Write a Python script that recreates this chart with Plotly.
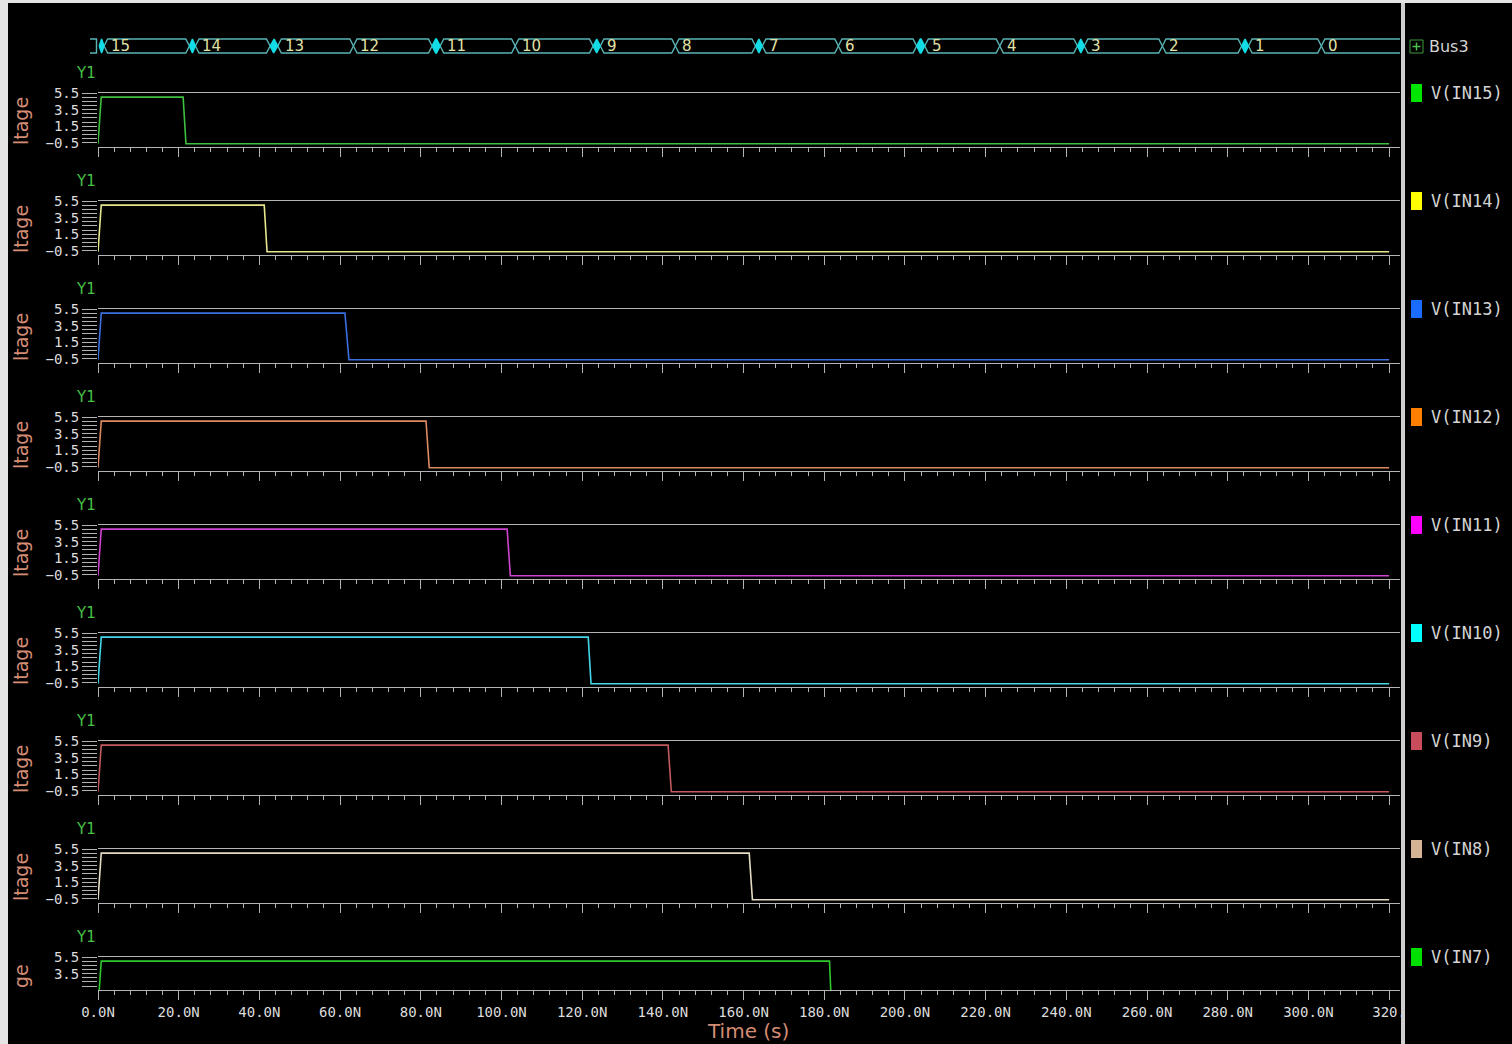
import plotly.graph_objects as go

W, H = 1512, 1044

# ---------------- waveform data (time in ns, voltage in V) ----------------
SIGNAL_NAMES = ["V(IN15)", "V(IN14)", "V(IN13)", "V(IN12)", "V(IN11)",
                "V(IN10)", "V(IN9)", "V(IN8)", "V(IN7)"]
RISE_END = [0.8, 0.8, 0.8, 0.8, 0.8, 0.8, 0.8, 0.8, 0.8]
FALL_START = [21.1, 41.2, 61.2, 81.3, 101.4, 121.5, 141.3, 161.4, 181.3]
FALL_END = [21.8, 41.9, 62.2, 82.1, 102.2, 122.2, 142.1, 162.2, 181.8]
V_HIGH = [5.0, 5.0, 5.0, 5.0, 5.0, 5.0, 5.0, 5.0, 5.0]
V_LOW = [-0.6, -0.6, -0.6, -0.6, -0.6, -0.6, -0.6, -0.6, -0.6]
SIM_END = 320.0

LINE_COLORS = ["#3fbf3f", "#e6e68c", "#3c6fe0", "#dc8a62", "#d043d0",
               "#44d6e6", "#c25a5e", "#e6dcc2", "#2ec82e"]
SWATCH_COLORS = ["#00e600", "#ffff00", "#1a6cff", "#ff8000", "#ff00ff",
                 "#00ffff", "#c84c5c", "#d4b494", "#00e000"]

# Bus3 decoded value, transition centres (ns) and glitch widths (ns)
BUS_VALUES = [15, 14, 13, 12, 11, 10, 9, 8, 7, 6, 5, 4, 3, 2, 1, 0]
BUS_EDGE = [0.9, 23.4, 43.6, 63.3, 83.8, 103.4, 123.6, 143.1, 163.8, 183.5,
            203.9, 223.5, 243.6, 263.8, 284.3, 303.2]
BUS_GLITCH = [1.2, 1.5, 1.9, 0.0, 2.0, 0.0, 1.8, 0.0, 1.7, 0.0, 2.0, 0.0,
              1.7, 0.0, 1.7, 0.0]

# Axis ticks
Y_TICKS = [5.5, 3.5, 1.5, -0.5]
X_TICKS = [0, 20, 40, 60, 80, 100, 120, 140, 160, 180, 200, 220, 240, 260,
           280, 300, 320]
X_TICK_TEXT = ["0.0N", "20.0N", "40.0N", "60.0N", "80.0N", "100.0N", "120.0N",
               "140.0N", "160.0N", "180.0N", "200.0N", "220.0N", "240.0N",
               "260.0N", "280.0N", "300.0N", "320."]

# ---------------- layout geometry (pixels) ----------------
PLOT_L, PLOT_R = 98, 1400
X_MAX = 322.7
PPN = (PLOT_R - PLOT_L) / X_MAX       # pixels per ns
PX_PER_V = 8.33
PANEL_TOP = [93 + 108 * k for k in range(9)]
PANEL_BOT = [t + 54 for t in PANEL_TOP]
PANEL_BOT[-1] = 990
BUS_TOP, BUS_BOT = 38, 54
BUS_L = 88

GRID = "#b4b4b4"
TICKFONT = dict(family="DejaVu Sans Mono", size=14, color="#dcdcdc")
TITLE_COLOR = "#d48c74"


def px_x(p):
    return p / W


def px_y(p):
    return 1 - p / H


fig = go.Figure()
layout = dict(
    template="none",
    width=W, height=H, autosize=False,
    margin=dict(l=0, r=0, t=0, b=0, pad=0, autoexpand=False),
    paper_bgcolor="#e4e4e4", plot_bgcolor="#000000",
    font=dict(family="DejaVu Sans", color="#d4d4d4"),
    showlegend=False,
)

annotations = []
shapes = [
    # dark canvas behind everything
    dict(type="rect", xref="paper", yref="paper", x0=px_x(8), x1=1,
         y0=0, y1=px_y(3), fillcolor="#000000", line=dict(width=0),
         layer="below"),
    # divider between waveform area and signal list
    dict(type="rect", xref="paper", yref="paper", x0=px_x(1401), x1=px_x(1405),
         y0=0, y1=px_y(3), fillcolor="#cfcfcf", line=dict(width=0)),
]

for k, name in enumerate(SIGNAL_NAMES):
    idx = k + 1
    sx = "" if idx == 1 else str(idx)
    top, bot = PANEL_TOP[k], PANEL_BOT[k]
    y_lo = 5.5 - (bot - top) / PX_PER_V

    t = [0.0, RISE_END[k], FALL_START[k], FALL_END[k], SIM_END]
    v = [V_LOW[k], V_HIGH[k], V_HIGH[k], V_LOW[k], V_LOW[k]]
    fig.add_trace(go.Scatter(
        x=t, y=v, mode="lines", name=name,
        line=dict(color=LINE_COLORS[k], width=1.6),
        xaxis="x" + sx, yaxis="y" + sx, hoverinfo="skip"))

    last = idx == len(SIGNAL_NAMES)
    layout["xaxis" + sx] = dict(
        domain=[px_x(PLOT_L), px_x(PLOT_R)], range=[0, X_MAX],
        anchor="y" + sx, showgrid=False, zeroline=False, automargin=False,
        showline=True, linecolor=GRID, linewidth=1, mirror=True,
        ticks="outside", ticklen=9, tickwidth=1, tickcolor=GRID,
        tickmode="array", tickvals=X_TICKS, ticktext=X_TICK_TEXT,
        showticklabels=last,
        tickfont=dict(family="DejaVu Sans Mono", size=14, color="#dcdcdc"),
        minor=dict(tickmode="linear", tick0=0, dtick=4, ticks="outside",
                   ticklen=4, tickcolor=GRID, showgrid=False),
        fixedrange=True,
    )
    layout["yaxis" + sx] = dict(
        domain=[px_y(bot), px_y(top)], range=[y_lo, 5.5],
        anchor="x" + sx, showgrid=False, zeroline=False, showline=False,
        automargin=False,
        ticks="outside", ticklen=15, tickwidth=1, tickcolor=GRID,
        tickmode="array", tickvals=Y_TICKS, tickfont=TICKFONT,
        minor=dict(tickmode="linear", tick0=-0.5, dtick=0.5, ticks="outside",
                   ticklen=15, tickcolor=GRID, showgrid=False),
        fixedrange=True,
    )

    # panel captions
    annotations.append(dict(
        xref="paper", yref="paper", x=px_x(86), y=px_y(top - 20),
        text="Y1", showarrow=False, xanchor="center", yanchor="middle",
        font=dict(family="DejaVu Sans", size=15, color="#46c046")))
    annotations.append(dict(
        xref="paper", yref="paper", x=px_x(21),
        y=px_y(bot if not last else bot), textangle=-90,
        text="ltage" if not last else "ge", showarrow=False,
        xanchor="center", yanchor="bottom",
        font=dict(family="DejaVu Sans", size=19, color=TITLE_COLOR)))

    # signal list entry
    shapes.append(dict(
        type="rect", xref="paper", yref="paper",
        x0=px_x(1411), x1=px_x(1422), y0=px_y(top + 9), y1=px_y(top - 9),
        fillcolor=SWATCH_COLORS[k], line=dict(width=0)))
    annotations.append(dict(
        xref="paper", yref="paper", x=px_x(1429), y=px_y(top),
        text=name, showarrow=False, xanchor="left", yanchor="middle",
        font=dict(family="DejaVu Sans Mono", size=17, color="#d4d4d4")))

# ---------------- bus row ----------------
BX, BY = "x10", "y10"
layout["xaxis10"] = dict(
    domain=[px_x(BUS_L), px_x(PLOT_R)],
    range=[-(PLOT_L - BUS_L) / PPN, X_MAX], anchor=BY, visible=False,
    automargin=False, fixedrange=True)
layout["yaxis10"] = dict(
    domain=[px_y(BUS_BOT), px_y(BUS_TOP)], range=[-0.07, 1.07], anchor=BX,
    visible=False, automargin=False, fixedrange=True)

D = 3.6 / PPN       # half width of a transition cross

seg_x, seg_y = [], []
gl_x, gl_y = [], []

# opening bracket of the bus trace
b0 = -(PLOT_L - BUS_L - 2) / PPN
b1 = -1.5 / PPN
seg_x += [b0, b1, b1, b0, None]
seg_y += [1, 1, 0, 0, None]

n = len(BUS_VALUES)
for i, val in enumerate(BUS_VALUES):
    start = BUS_EDGE[i] + BUS_GLITCH[i] / 2
    end = (BUS_EDGE[i + 1] - BUS_GLITCH[i + 1] / 2) if i + 1 < n else X_MAX + 20
    seg_x += [start, start + D, end - D, end, end - D, start + D, start, None]
    seg_y += [0.5, 1, 1, 0.5, 0, 0, 0.5, None]

    if BUS_GLITCH[i] > 0:
        g0 = BUS_EDGE[i] - BUS_GLITCH[i] / 2
        g1 = BUS_EDGE[i] + BUS_GLITCH[i] / 2
        dg = min(D, BUS_GLITCH[i] / 2)
        gl_x += [g0, g0 + dg, g1 - dg, g1, g1 - dg, g0 + dg, g0, None]
        gl_y += [0.5, 1, 1, 0.5, 0, 0, 0.5, None]

    annotations.append(dict(
        xref=BX, yref=BY, x=start + 1.2, y=0.5, text=str(val),
        showarrow=False, xanchor="left", yanchor="middle",
        font=dict(family="DejaVu Sans", size=15, color="#e2e2a6")))

fig.add_trace(go.Scatter(
    x=seg_x, y=seg_y, mode="lines", line=dict(color="#5ab4b6", width=1.4),
    xaxis=BX, yaxis=BY, hoverinfo="skip"))
fig.add_trace(go.Scatter(
    x=gl_x, y=gl_y, mode="lines", fill="toself", fillcolor="#12dde6",
    line=dict(color="#12dde6", width=1.4),
    xaxis=BX, yaxis=BY, hoverinfo="skip"))

# Bus3 entry with expander box
shapes.append(dict(type="rect", xref="paper", yref="paper",
                   x0=px_x(1410), x1=px_x(1423), y0=px_y(53), y1=px_y(40),
                   line=dict(color="#3e9a3e", width=1), fillcolor="#000000"))
shapes.append(dict(type="line", xref="paper", yref="paper",
                   x0=px_x(1412.5), x1=px_x(1420.5), y0=px_y(46.5), y1=px_y(46.5),
                   line=dict(color="#4cc04c", width=1.5)))
shapes.append(dict(type="line", xref="paper", yref="paper",
                   x0=px_x(1416.5), x1=px_x(1416.5), y0=px_y(42.5), y1=px_y(50.5),
                   line=dict(color="#4cc04c", width=1.5)))
annotations.append(dict(
    xref="paper", yref="paper", x=px_x(1427), y=px_y(46), text="Bus3",
    showarrow=False, xanchor="left", yanchor="middle",
    font=dict(family="DejaVu Sans", size=16, color="#d4d4d4")))

# time axis title
annotations.append(dict(
    xref="paper", yref="paper", x=px_x(748), y=px_y(1031), text="Time (s)",
    showarrow=False, xanchor="center", yanchor="middle",
    font=dict(family="DejaVu Sans", size=20, color=TITLE_COLOR)))

layout["annotations"] = annotations
layout["shapes"] = shapes
fig.update_layout(**layout)

# page without body margin so the figure fills the window exactly
fig.write_html(
    "out.html", config={"displayModeBar": False},
    post_script="document.body.style.margin='0';"
                "document.body.style.overflow='hidden';")
